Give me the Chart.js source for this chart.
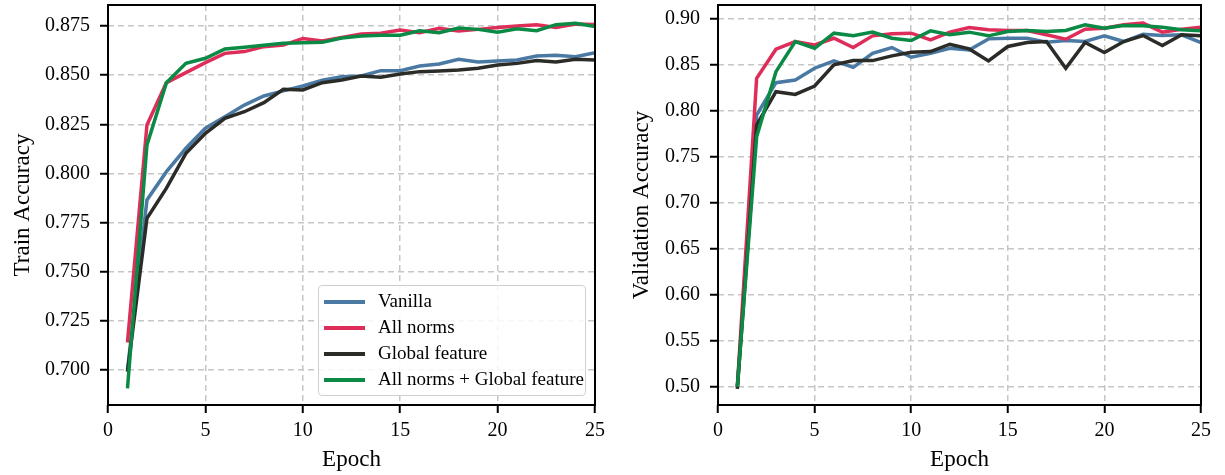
<!DOCTYPE html>
<html>
<head>
<meta charset="utf-8">
<script src="https://cdn.jsdelivr.net/npm/chart.js@4.4.1/dist/chart.umd.min.js"></script>
<style>
  body { margin: 0; background: #fff; }
  #wrap { position: relative; width: 1225px; height: 475px; overflow: hidden; }
  canvas { position: absolute; top: 0; }
  #legend {
    position: absolute; left: 318px; top: 285px; width: 268px; height: 111px;
    border: 1.5px solid #cfcfcf; border-radius: 4px; background: rgba(255,255,255,0.85);
    font-family: "Liberation Serif", serif; font-size: 19px; color: #000;
    box-sizing: border-box; padding-top: 2px;
  }
  #legend .item { position: relative; height: 26px; line-height: 26px; }
  #legend .swatch { position: absolute; left: 5px; top: 12px; width: 41px; height: 3.5px; }
  #legend .label { position: absolute; left: 59px; top: 0; white-space: nowrap; }
</style>
</head>
<body>
<div id="wrap">
  <canvas id="trainChart" width="610" height="475" style="left:0"></canvas>
  <canvas id="valChart" width="615" height="475" style="left:610px"></canvas>
  <div id="legend"></div>
</div>
<script>
var epochs = [1,2,3,4,5,6,7,8,9,10,11,12,13,14,15,16,17,18,19,20,21,22,23,24,25];
var seriesNames = ['Vanilla', 'All norms', 'Global feature', 'All norms + Global feature'];
var seriesColors = ['#4a79a3', '#de2d59', '#2b2b27', '#0a8a45'];

var trainVanilla  = [0.700,0.7865,0.8009,0.8128,0.823,0.8289,0.8348,0.8394,0.842,0.8445,0.8475,0.8492,0.8496,0.8523,0.8523,0.8547,0.8557,0.8581,0.8567,0.8572,0.8577,0.8597,0.8601,0.8594,0.8614];
var trainAllNorms = [0.714,0.8247,0.8462,0.8513,0.8564,0.8611,0.862,0.8645,0.8653,0.8687,0.8674,0.8692,0.8709,0.8713,0.873,0.8716,0.8738,0.8725,0.8733,0.8743,0.875,0.8757,0.8743,0.876,0.8758];
var trainGlobal   = [0.6991,0.7772,0.7925,0.8102,0.8204,0.828,0.8314,0.836,0.8428,0.8425,0.8462,0.8475,0.8496,0.8489,0.8506,0.8518,0.8521,0.8526,0.8535,0.8552,0.856,0.8574,0.8567,0.8581,0.8577];
var trainBoth     = [0.6907,0.8145,0.8462,0.856,0.8586,0.8633,0.8642,0.8652,0.8662,0.8665,0.8667,0.8689,0.8699,0.8703,0.8703,0.8726,0.8716,0.874,0.8733,0.8719,0.8736,0.8726,0.8757,0.8764,0.8747];

var valVanilla  = [0.500,0.7954,0.8306,0.8335,0.8463,0.8542,0.8473,0.8626,0.8688,0.8582,0.8626,0.868,0.8662,0.8782,0.8789,0.8789,0.8746,0.8764,0.8753,0.8815,0.8753,0.8833,0.8818,0.8826,0.8742];
var valAllNorms = [0.500,0.8354,0.867,0.8753,0.8717,0.8789,0.8688,0.8815,0.8837,0.8844,0.8771,0.8855,0.8906,0.888,0.8873,0.8873,0.8826,0.8778,0.8887,0.8898,0.8935,0.8953,0.8855,0.8887,0.8909];
var valGlobal   = [0.498,0.7845,0.8208,0.8179,0.827,0.8499,0.8546,0.8546,0.8597,0.8637,0.8644,0.8724,0.8673,0.8542,0.8699,0.8742,0.8753,0.8463,0.8742,0.8633,0.8753,0.8818,0.871,0.8826,0.8815];
var valBoth     = [0.500,0.7718,0.8426,0.8753,0.868,0.8844,0.8815,0.8855,0.8789,0.8764,0.8869,0.8826,0.8855,0.8815,0.8862,0.8873,0.8862,0.8873,0.8935,0.8898,0.8927,0.8924,0.8909,0.888,0.8869];

var xTicks = [0, 5, 10, 15, 20, 25];
var trainTicks = [0.700, 0.725, 0.750, 0.775, 0.800, 0.825, 0.850, 0.875];
var valTicks = [0.50, 0.55, 0.60, 0.65, 0.70, 0.75, 0.80, 0.85, 0.90];

var serif = "'Liberation Serif', 'Times New Roman', serif";

// matplotlib style box round the plot area
var framePlugin = {
    id: 'frame',
    afterDraw: function(chart) {
        var a = chart.chartArea, ctx = chart.ctx;
        ctx.save();
        ctx.strokeStyle = '#000';
        ctx.lineWidth = 2;
        ctx.strokeRect(a.left, a.top, a.right - a.left, a.bottom - a.top);
        ctx.restore();
    }
};

function makeDatasets(values) {
    return values.map(function(v, i) {
        return {
            label: seriesNames[i],
            data: epochs.map(function(e, k) { return {x: e, y: v[k]}; }),
            borderColor: seriesColors[i],
            backgroundColor: seriesColors[i],
            borderWidth: 3.5,
            pointRadius: 0,
            tension: 0,
            fill: false,
            order: 4 - i
        };
    });
}

function makeChart(id, values, yMin, yMax, yTicks, decimals, yTitle, yTitlePad, padRight) {
    var ctx = document.getElementById(id).getContext('2d');
    return new Chart(ctx, {
        type: 'line',
        data: { datasets: makeDatasets(values) },
        plugins: [framePlugin],
        options: {
            responsive: false,
            animation: false,
            devicePixelRatio: 1,
            layout: { padding: { top: 5, right: padRight, left: 0, bottom: 0 } },
            plugins: { legend: { display: false }, tooltip: { enabled: false } },
            scales: {
                x: {
                    type: 'linear',
                    min: 0, max: 25,
                    afterBuildTicks: function(s) { s.ticks = xTicks.map(function(v) { return {value: v}; }); },
                    afterFit: function(s) { s.height = 70; s.paddingLeft = 0; s.paddingRight = 0; },
                    grid: { color: '#c6c6c6', lineWidth: 1.5, tickColor: '#000', tickWidth: 2, tickLength: 8 },
                    border: { display: false, dash: [6, 4] },
                    ticks: { color: '#000', font: { family: serif, size: 20 }, padding: 6, maxRotation: 0 },
                    title: { display: true, text: 'Epoch', color: '#000', font: { family: serif, size: 23 }, padding: { top: 0, bottom: 1 } }
                },
                y: {
                    min: yMin, max: yMax,
                    afterBuildTicks: function(s) { s.ticks = yTicks.map(function(v) { return {value: v}; }); },
                    afterFit: function(s) { s.width = 108; s.paddingTop = 0; s.paddingBottom = 0; },
                    grid: { color: '#c6c6c6', lineWidth: 1.5, tickColor: '#000', tickWidth: 2, tickLength: 8 },
                    border: { display: false, dash: [6, 4] },
                    ticks: {
                        color: '#000', font: { family: serif, size: 20 }, padding: 10,
                        callback: function(v) { return Number(v).toFixed(decimals); }
                    },
                    title: { display: true, text: yTitle, color: '#000', font: { family: serif, size: 23 }, padding: { top: yTitlePad, bottom: 0 } }
                }
            }
        }
    });
}

var trainChart = makeChart('trainChart', [trainVanilla, trainAllNorms, trainGlobal, trainBoth],
    0.6822, 0.8857, trainTicks, 3, 'Train Accuracy', 9, 15);
var valChart = makeChart('valChart', [valVanilla, valAllNorms, valGlobal, valBoth],
    0.4804, 0.915, valTicks, 2, 'Validation Accuracy', 18, 24);

// legend drawn as html inside the left plot
var legend = document.getElementById('legend');
trainChart.data.datasets.forEach(function(ds) {
    var item = document.createElement('div');
    item.className = 'item';
    item.innerHTML = '<span class="swatch" style="background:' + ds.borderColor + '"></span><span class="label"></span>';
    item.querySelector('.label').textContent = ds.label;
    legend.appendChild(item);
});
</script>
</body>
</html>
